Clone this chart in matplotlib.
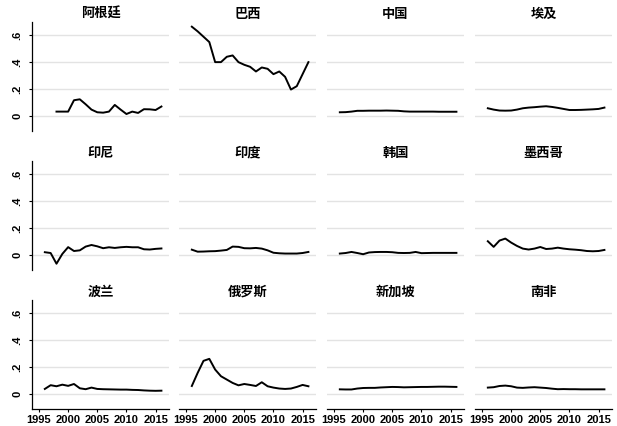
import matplotlib
matplotlib.use("Agg")
import matplotlib.pyplot as plt

# Years covered by each series
years = list(range(1996, 2017))
years_arg = list(range(1998, 2017))

# Panel titles (row by row)
countries = ["阿根廷", "巴西", "中国", "埃及",
             "印尼", "印度", "韩国", "墨西哥",
             "波兰", "俄罗斯", "新加坡", "南非"]

argentina = [0.03, 0.03, 0.03, 0.115, 0.122, 0.085, 0.045, 0.025, 0.022, 0.03,
             0.08, 0.045, 0.012, 0.03, 0.02, 0.048, 0.047, 0.042, 0.068]
brazil = [0.665, 0.63, 0.59, 0.55, 0.40, 0.40, 0.44, 0.45, 0.40, 0.38, 0.365,
          0.33, 0.36, 0.35, 0.31, 0.33, 0.29, 0.195, 0.22, 0.31, 0.40]
china = [0.025, 0.026, 0.030, 0.036, 0.036, 0.037, 0.037, 0.037, 0.038, 0.037,
         0.036, 0.032, 0.030, 0.030, 0.030, 0.030, 0.030, 0.029, 0.029, 0.029, 0.029]
egypt = [0.055, 0.045, 0.038, 0.037, 0.038, 0.045, 0.055, 0.060, 0.063, 0.067,
         0.070, 0.065, 0.058, 0.050, 0.042, 0.042, 0.043, 0.045, 0.047, 0.050, 0.060]
indonesia = [0.018, 0.012, -0.068, 0.005, 0.056, 0.027, 0.032, 0.060, 0.072, 0.062,
             0.048, 0.055, 0.050, 0.055, 0.058, 0.055, 0.055, 0.040, 0.038, 0.043, 0.046]
india = [0.037, 0.022, 0.023, 0.025, 0.026, 0.030, 0.035, 0.060, 0.058, 0.048,
         0.047, 0.050, 0.045, 0.032, 0.014, 0.010, 0.008, 0.008, 0.008, 0.012, 0.020]
korea = [0.008, 0.012, 0.020, 0.012, 0.003, 0.016, 0.019, 0.020, 0.020, 0.018,
         0.013, 0.012, 0.013, 0.020, 0.011, 0.012, 0.013, 0.013, 0.013, 0.013, 0.013]
mexico = [0.100, 0.058, 0.105, 0.120, 0.090, 0.065, 0.045, 0.038, 0.045, 0.057,
          0.042, 0.045, 0.052, 0.045, 0.040, 0.037, 0.033, 0.027, 0.025, 0.027, 0.035]
poland = [0.035, 0.063, 0.055, 0.067, 0.058, 0.072, 0.040, 0.033, 0.045, 0.035,
          0.033, 0.032, 0.031, 0.030, 0.030, 0.028, 0.027, 0.024, 0.022, 0.021, 0.022]
russia = [0.057, 0.155, 0.245, 0.260, 0.180, 0.130, 0.105, 0.080, 0.062, 0.072,
          0.065, 0.057, 0.085, 0.055, 0.045, 0.038, 0.035, 0.038, 0.050, 0.065, 0.055]
singapore = [0.032, 0.031, 0.031, 0.038, 0.042, 0.043, 0.043, 0.046, 0.048, 0.050,
             0.049, 0.047, 0.048, 0.049, 0.050, 0.050, 0.051, 0.052, 0.052, 0.051, 0.050]
south_africa = [0.045, 0.048, 0.057, 0.060, 0.055, 0.045, 0.043, 0.046, 0.048, 0.045,
                0.042, 0.037, 0.033, 0.034, 0.033, 0.033, 0.032, 0.032, 0.032, 0.032, 0.032]

series = [
    (years_arg, argentina), (years, brazil), (years, china), (years, egypt),
    (years, indonesia), (years, india), (years, korea), (years, mexico),
    (years, poland), (years, russia), (years, singapore), (years, south_africa),
]

y_ticks = [0, 0.2, 0.4, 0.6]
y_tick_labels = ["0", ".2", ".4", ".6"]
x_ticks = [1995, 2000, 2005, 2010, 2015]

W, H = 617, 426
fig = plt.figure(figsize=(W / 100, H / 100), dpi=100)
fig.patch.set_facecolor("white")

col_left = [32, 179, 327, 475]
row_top = [22, 161, 300]
ax_w, ax_h = 137, 109

num_font = "Liberation Sans"
cjk_font = ["Noto Sans CJK SC", "DejaVu Sans"]

for i, (name, (xs, ys)) in enumerate(zip(countries, series)):
    r, c = divmod(i, 4)
    ax = fig.add_axes([col_left[c] / W, 1 - (row_top[r] + ax_h) / H, ax_w / W, ax_h / H])
    ax.set_xlim(1993.8, 2017.3)
    ax.set_ylim(-0.115, 0.70)
    ax.set_yticks(y_ticks)
    ax.set_xticks(x_ticks)
    ax.yaxis.grid(True, color="#e3e3e3", linewidth=1.0)
    ax.set_axisbelow(True)
    ax.plot(xs, ys, color="black", linewidth=1.4, solid_joinstyle="round")

    for s in ["top", "right"]:
        ax.spines[s].set_visible(False)
    ax.spines["left"].set_visible(c == 0)
    ax.spines["bottom"].set_visible(r == 2)
    for s in ["left", "bottom"]:
        ax.spines[s].set_linewidth(0.9)

    if c == 0:
        ax.set_yticklabels(y_tick_labels, rotation=90, va="center",
                           family=num_font, fontweight="bold", fontsize=8)
        ax.tick_params(axis="y", length=2.5, width=0.8, pad=4.5)
    else:
        ax.tick_params(axis="y", length=0, labelleft=False)

    if r == 2:
        ax.set_xticklabels([str(t) for t in x_ticks], family=num_font,
                           fontweight="bold", fontsize=8)
        ax.tick_params(axis="x", length=2.5, width=0.8, pad=1.5)
    else:
        ax.tick_params(axis="x", length=0, labelbottom=False)

    ax.set_title(name, family=cjk_font, fontweight="bold", fontsize=9.5, pad=3)

fig.savefig("out.png", dpi=100, facecolor="white")
